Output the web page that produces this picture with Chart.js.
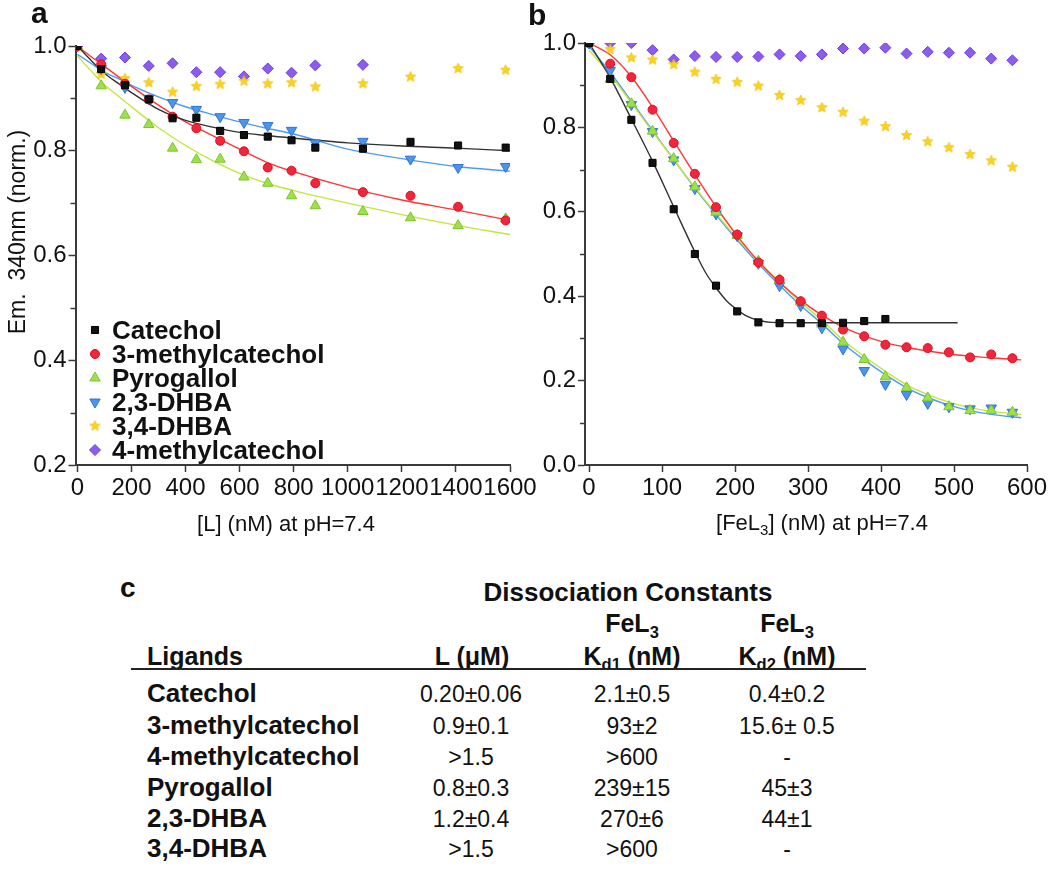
<!DOCTYPE html>
<html>
<head>
<meta charset="utf-8">
<script src="https://cdn.jsdelivr.net/npm/chart.js"></script>
<style>
  body { margin: 0; background: #fff; width: 1050px; height: 870px; position: relative; overflow: hidden;
         font-family: "Liberation Sans", Arial, sans-serif; color: #111; }
  canvas { position: absolute; top: 0; }
  #chartA { left: 0; }
  #chartB { left: 520px; }
  .t { position: absolute; white-space: nowrap; line-height: 1; }
  .b { font-weight: bold; }
  .c { transform: translateX(-50%); }
  .t sub { font-size: 0.66em; vertical-align: baseline; position: relative; top: 0.32em; line-height: 0; }
  .rule { position: absolute; background: #222; }
</style>
</head>
<body>
<canvas id="chartA" width="550" height="560"></canvas>
<canvas id="chartB" width="530" height="560"></canvas>
<div id="table"></div>
<script>
const FONT = '"Liberation Sans", Arial, sans-serif';

// ---- panel a : emission vs ligand concentration ----
const xTicksA = [0, 200, 400, 600, 800, 1000, 1200, 1400, 1600];
const yTicksA = [0.2, 0.4, 0.6, 0.8, 1.0];
const yMinorA = [0.3, 0.5, 0.7, 0.9];
const concA = [0, 88, 176, 264, 352, 440, 528, 616, 704, 792, 880, 1056, 1232, 1408, 1584];
const catecholA = [1.0, 0.956, 0.925, 0.898, 0.862, 0.863, 0.838, 0.830, 0.827, 0.820, 0.806, 0.804, 0.817, 0.810, 0.806];
const methyl3A  = [1.0, 0.965, 0.928, 0.898, 0.865, 0.843, 0.819, 0.799, 0.768, 0.762, 0.738, 0.721, 0.714, 0.693, 0.667];
const pyroA     = [1.0, 0.924, 0.868, 0.850, 0.805, 0.783, 0.784, 0.750, 0.738, 0.714, 0.695, 0.684, 0.672, 0.657, 0.670];
const dhba23A   = [1.0, 0.957, 0.921, 0.900, 0.892, 0.879, 0.865, 0.854, 0.848, 0.839, 0.815, 0.818, 0.784, 0.768, 0.770];
const dhba34A   = [1.0, 0.946, 0.938, 0.930, 0.912, 0.923, 0.927, 0.933, 0.928, 0.930, 0.922, 0.928, 0.941, 0.957, 0.954];
const methyl4A  = [1.0, 0.976, 0.978, 0.962, 0.967, 0.950, 0.950, 0.942, 0.957, 0.949, 0.963, 0.964];

// fitted curves
const fitXA = [0, 50, 100, 150, 200, 300, 400, 500, 600, 700, 800, 1000, 1200, 1400, 1600];
const catecholFitA = [1.0, 0.973, 0.948, 0.929, 0.911, 0.879, 0.858, 0.845, 0.835, 0.829, 0.824, 0.815, 0.809, 0.805, 0.800];
const methyl3FitA  = [1.0, 0.980, 0.961, 0.942, 0.923, 0.887, 0.855, 0.829, 0.803, 0.778, 0.760, 0.730, 0.706, 0.687, 0.667];
const pyroFitA     = [0.981, 0.953, 0.926, 0.905, 0.884, 0.844, 0.810, 0.781, 0.757, 0.738, 0.724, 0.700, 0.678, 0.658, 0.640];
const dhba23FitA   = [0.984, 0.967, 0.950, 0.938, 0.925, 0.903, 0.884, 0.869, 0.855, 0.843, 0.832, 0.803, 0.785, 0.770, 0.761];

// ---- panel b : emission vs FeL3 concentration ----
const xTicksB = [0, 100, 200, 300, 400, 500, 600];
const yTicksB = [0.0, 0.2, 0.4, 0.6, 0.8, 1.0];
const yMinorB = [0.1, 0.3, 0.5, 0.7, 0.9];
const concB = [0, 29, 58, 87, 116, 145, 174, 203, 232, 261, 290, 319, 348, 377, 406, 435, 464, 493, 522, 551, 580];
const catecholB = [1.0, 0.915, 0.818, 0.716, 0.606, 0.500, 0.425, 0.364, 0.338, 0.336, 0.336, 0.336, 0.337, 0.341, 0.346];
const methyl3B  = [1.0, 0.951, 0.919, 0.842, 0.763, 0.690, 0.611, 0.546, 0.480, 0.439, 0.388, 0.354, 0.321, 0.305, 0.285, 0.279, 0.277, 0.267, 0.255, 0.262, 0.253];
const pyroB     = [1.0, 0.914, 0.856, 0.791, 0.726, 0.659, 0.599, 0.544, 0.483, 0.439, 0.386, 0.334, 0.291, 0.250, 0.209, 0.183, 0.159, 0.138, 0.129, 0.129, 0.125];
const dhba23B   = [1.0, 0.935, 0.854, 0.790, 0.723, 0.655, 0.595, 0.543, 0.478, 0.425, 0.378, 0.325, 0.275, 0.224, 0.191, 0.167, 0.146, 0.138, 0.133, 0.135, 0.125];
const dhba34B   = [1.0, 0.985, 0.965, 0.960, 0.949, 0.931, 0.914, 0.907, 0.898, 0.876, 0.864, 0.847, 0.836, 0.815, 0.802, 0.781, 0.766, 0.752, 0.736, 0.721, 0.706];
const methyl4B  = [1.0, 1.0, 1.0, 0.983, 0.961, 0.969, 0.967, 0.967, 0.968, 0.973, 0.969, 0.973, 0.987, 0.987, 0.989, 0.975, 0.979, 0.977, 0.977, 0.963, 0.959];

const catFitXB = [0, 29, 58, 87, 116, 145, 160, 174, 188, 203, 217, 232, 250, 300, 400, 505];
const catecholFitB = [1.0, 0.918, 0.820, 0.720, 0.612, 0.505, 0.455, 0.420, 0.390, 0.368, 0.352, 0.343, 0.338, 0.337, 0.337, 0.337];
const fitXB = [0, 29, 58, 87, 116, 145, 174, 203, 232, 261, 290, 319, 348, 377, 406, 435, 464, 493, 522, 551, 592];
const methyl3FitB = [1.0, 0.972, 0.920, 0.848, 0.768, 0.688, 0.612, 0.543, 0.483, 0.433, 0.390, 0.355, 0.327, 0.306, 0.290, 0.279, 0.270, 0.263, 0.258, 0.254, 0.249];
const pyroFitB    = [0.983, 0.925, 0.858, 0.790, 0.724, 0.658, 0.596, 0.537, 0.482, 0.432, 0.385, 0.343, 0.296, 0.257, 0.222, 0.190, 0.167, 0.149, 0.136, 0.127, 0.120];
const dhba23FitB  = [0.992, 0.930, 0.862, 0.792, 0.724, 0.656, 0.593, 0.533, 0.477, 0.426, 0.378, 0.335, 0.288, 0.249, 0.214, 0.183, 0.160, 0.142, 0.129, 0.120, 0.112];

// ---- panel c : table ----
const ligandRows = ['Catechol', '3-methylcatechol', '4-methylcatechol', 'Pyrogallol', '2,3-DHBA', '3,4-DHBA'];
const kdL = ['0.20±0.06', '0.9±0.1', '>1.5', '0.8±0.3', '1.2±0.4', '>1.5'];
const kd1 = ['2.1±0.5', '93±2', '>600', '239±15', '270±6', '>600'];
const kd2 = ['0.4±0.2', '15.6± 0.5', '-', '45±3', '44±1', '-'];

// filled five point star used as a point style
function makeStar(r, fill, stroke) {
    const c = document.createElement('canvas');
    c.width = c.height = 2 * r + 2;
    const g = c.getContext('2d');
    g.beginPath();
    for (let i = 0; i < 10; i++) {
        const rr = i % 2 ? r * 0.45 : r;
        const a = -Math.PI / 2 + i * Math.PI / 5;
        g.lineTo(r + 1 + rr * Math.cos(a), r + 1 + rr * Math.sin(a));
    }
    g.closePath();
    g.fillStyle = fill; g.fill();
    g.strokeStyle = stroke; g.lineWidth = 0.6; g.stroke();
    return c;
}

const st = {
    cat:  {fill: '#111111', border: '#000000', line: '#333333', style: 'rect', r: 5, rot: 0},
    m3:   {fill: '#f4243b', border: '#d41424', line: '#ff3535', style: 'circle', r: 4.5, rot: 0},
    pyr:  {fill: '#9fe04a', border: '#7cc432', line: '#c4e63c', style: 'triangle', r: 6, rot: 0},
    d23:  {fill: '#4b94ef', border: '#2f74d0', line: '#4d9af5', style: 'triangle', r: 6, rot: 180},
    d34:  {fill: '#ffd21a', border: '#ffd21a', line: '#ffd21a', style: makeStar(5.5, '#ffd21a', '#e8b800'), r: 5.5, rot: 0},
    m4:   {fill: '#8c5cf2', border: '#6a3fd8', line: '#8c5cf2', style: 'rectRot', r: 5.5, rot: 0}
};

function pts(xs, ys) { return ys.map((y, i) => ({x: xs[i], y: y})); }

function pointSet(label, xs, ys, s) {
    return {label: label, data: pts(xs, ys), showLine: false, pointStyle: s.style, pointRadius: s.r,
            pointRotation: s.rot, backgroundColor: s.fill, borderColor: s.border, pointBorderWidth: 1,
            pointHoverRadius: s.r, order: 1};
}
function fitSet(xs, ys, s) {
    return {label: '', data: pts(xs, ys), showLine: true, pointRadius: 0, pointHoverRadius: 0,
            borderColor: s.line, borderWidth: 1.4, cubicInterpolationMode: 'monotone', fill: false, order: 2};
}

// titles, panel letters, minor ticks and legend
const decor = {
    id: 'decor',
    afterDraw(chart, args, o) {
        const ctx = chart.ctx, y = chart.scales.y, area = chart.chartArea;
        ctx.save();
        ctx.strokeStyle = '#3a3a3a';
        ctx.lineWidth = 1.5;
        o.minor.forEach(v => {
            const py = Math.round(y.getPixelForValue(v)) + 0.5;
            ctx.beginPath(); ctx.moveTo(area.left - 5, py); ctx.lineTo(area.left, py); ctx.stroke();
        });
        ctx.fillStyle = '#111';
        ctx.textBaseline = 'alphabetic';
        ctx.textAlign = 'left';
        ctx.font = 'bold 30px ' + FONT;
        ctx.fillText(o.letter, o.letterX, o.letterY);

        // x axis title (with subscripts)
        const big = '22px ' + FONT, small = '15px ' + FONT;
        let w = 0;
        o.xTitle.forEach(p => { ctx.font = p.sub ? small : big; w += ctx.measureText(p.t).width; });
        let x = o.xTitleX - w / 2;
        o.xTitle.forEach(p => {
            ctx.font = p.sub ? small : big;
            ctx.fillText(p.t, x, o.xTitleY + (p.sub ? 5 : 0));
            x += ctx.measureText(p.t).width;
        });

        if (o.yTitle) {
            ctx.save();
            ctx.translate(o.yTitleX, o.yTitleY);
            ctx.rotate(-Math.PI / 2);
            ctx.textAlign = 'center';
            ctx.font = '23px ' + FONT;
            ctx.fillText(o.yTitle, 0, 0);
            ctx.restore();
        }

        if (o.legend) {
            const sets = chart.data.datasets.filter(d => d.showLine === false);
            o.legendOrder.forEach((label, i) => {
                const d = sets.find(s => s.label === label);
                const cy = o.legendY + i * 24;
                ctx.fillStyle = d.backgroundColor;
                ctx.strokeStyle = d.borderColor;
                ctx.lineWidth = 1;
                Chart.helpers.drawPoint(ctx, {pointStyle: d.pointStyle, radius: d.pointRadius,
                    rotation: d.pointRotation, borderWidth: 1}, o.legendX, cy);
                ctx.fillStyle = '#111';
                ctx.font = 'bold 26px ' + FONT;
                ctx.fillText(label, o.legendX + 17, cy + 9);
            });
        }
        ctx.restore();
    }
};

function axisOpts(min, max, ticks, fmt, fitSize, horizontal) {
    return {
        type: 'linear', min: min, max: max,
        afterBuildTicks: s => { s.ticks = ticks.map(v => ({value: v})); },
        afterFit: s => { if (horizontal) s.height = fitSize; else s.width = fitSize; },
        grid: {display: true, drawOnChartArea: false, drawTicks: true, tickLength: 7, tickColor: '#3a3a3a', tickWidth: 1.5},
        border: {display: true, color: '#3a3a3a', width: 2},
        ticks: {autoSkip: false, maxRotation: 0, minRotation: 0, padding: horizontal ? 2 : 2,
                color: '#111', font: {family: FONT, size: 24}, callback: fmt}
    };
}

const fmtInt = v => String(v);
const fmtDec = v => v.toFixed(1);

new Chart(document.getElementById('chartA'), {
    type: 'scatter',
    data: {
        datasets: [
            pointSet('Catechol', concA, catecholA, st.cat),
            pointSet('3-methylcatechol', concA, methyl3A, st.m3),
            pointSet('Pyrogallol', concA, pyroA, st.pyr),
            pointSet('2,3-DHBA', concA, dhba23A, st.d23),
            pointSet('3,4-DHBA', concA, dhba34A, st.d34),
            pointSet('4-methylcatechol', concA, methyl4A, st.m4),
            fitSet(fitXA, catecholFitA, st.cat),
            fitSet(fitXA, methyl3FitA, st.m3),
            fitSet(fitXA, pyroFitA, st.pyr),
            fitSet(fitXA, dhba23FitA, st.d23)
        ]
    },
    options: {
        responsive: false, animation: false, devicePixelRatio: 1,
        layout: {padding: {left: 0, top: 46, right: 40, bottom: 0}},
        scales: {
            x: axisOpts(-7, 1600, xTicksA, fmtInt, 95, true),
            y: axisOpts(0.2, 1.0, yTicksA, fmtDec, 75.5, false)
        },
        plugins: {
            legend: {display: false}, tooltip: {enabled: false},
            decor: {
                minor: yMinorA, letter: 'a', letterX: 31, letterY: 23,
                xTitle: [{t: '[L] (nM) at pH=7.4'}], xTitleX: 286, xTitleY: 531,
                yTitle: 'Em.  340nm (norm.)', yTitleX: 25, yTitleY: 232,
                legend: true, legendX: 95, legendY: 330,
                legendOrder: ['Catechol', '3-methylcatechol', 'Pyrogallol', '2,3-DHBA', '3,4-DHBA', '4-methylcatechol']
            }
        }
    },
    plugins: [decor]
});

new Chart(document.getElementById('chartB'), {
    type: 'scatter',
    data: {
        datasets: [
            pointSet('Catechol', concB, catecholB, st.cat),
            pointSet('3-methylcatechol', concB, methyl3B, st.m3),
            pointSet('Pyrogallol', concB, pyroB, st.pyr),
            pointSet('2,3-DHBA', concB, dhba23B, st.d23),
            pointSet('3,4-DHBA', concB, dhba34B, st.d34),
            pointSet('4-methylcatechol', concB, methyl4B, st.m4),
            fitSet(catFitXB, catecholFitB, st.cat),
            fitSet(fitXB, methyl3FitB, st.m3),
            fitSet(fitXB, pyroFitB, st.pyr),
            fitSet(fitXB, dhba23FitB, st.d23)
        ]
    },
    options: {
        responsive: false, animation: false, devicePixelRatio: 1,
        layout: {padding: {left: 0, top: 43, right: 23, bottom: 0}},
        scales: {
            x: axisOpts(-5.5, 600, xTicksB, fmtInt, 95, true),
            y: axisOpts(0, 1.0, yTicksB, fmtDec, 65, false)
        },
        plugins: {
            legend: {display: false}, tooltip: {enabled: false},
            decor: {
                minor: yMinorB, letter: 'b', letterX: 8, letterY: 25,
                xTitle: [{t: '[FeL'}, {t: '3', sub: true}, {t: '] (nM) at pH=7.4'}], xTitleX: 302, xTitleY: 530,
                legend: false
            }
        }
    },
    plugins: [decor]
});

// ---- table (panel c) ----
const table = document.getElementById('table');
function addText(html, x, baseline, size, bold, center) {
    const d = document.createElement('div');
    d.className = 't' + (bold ? ' b' : '') + (center ? ' c' : '');
    d.style.fontSize = size + 'px';
    d.style.left = x + 'px';
    d.style.top = (baseline - 0.8465 * size) + 'px';
    d.innerHTML = html;
    table.appendChild(d);
}
const esc = s => s.replace(/&/g, '&amp;').replace(/</g, '&lt;').replace(/>/g, '&gt;');

addText('c', 120, 598, 28, true, false);
addText('Dissociation Constants', 628, 601.5, 26, true, true);
addText('FeL<sub>3</sub>', 632, 632.5, 25, true, true);
addText('FeL<sub>3</sub>', 787, 632.5, 25, true, true);
addText('Ligands', 147, 665, 25, true, false);
addText('L (μM)', 472, 665, 25, true, true);
addText('K<sub>d1</sub> (nM)', 632, 665, 25, true, true);
addText('K<sub>d2</sub> (nM)', 787, 665, 25, true, true);
const rule = document.createElement('div');
rule.className = 'rule';
Object.assign(rule.style, {left: '131px', top: '668px', width: '735px', height: '2px'});
table.appendChild(rule);

const rowBase = [702.5, 734, 765, 796, 827, 857];
ligandRows.forEach((name, i) => {
    addText(esc(name), 147, rowBase[i], 26, true, false);
    addText(esc(kdL[i]), 471, rowBase[i], 23, false, true);
    addText(esc(kd1[i]), 632, rowBase[i], 23, false, true);
    addText(esc(kd2[i]), 787, rowBase[i], 23, false, true);
});
</script>
</body>
</html>
